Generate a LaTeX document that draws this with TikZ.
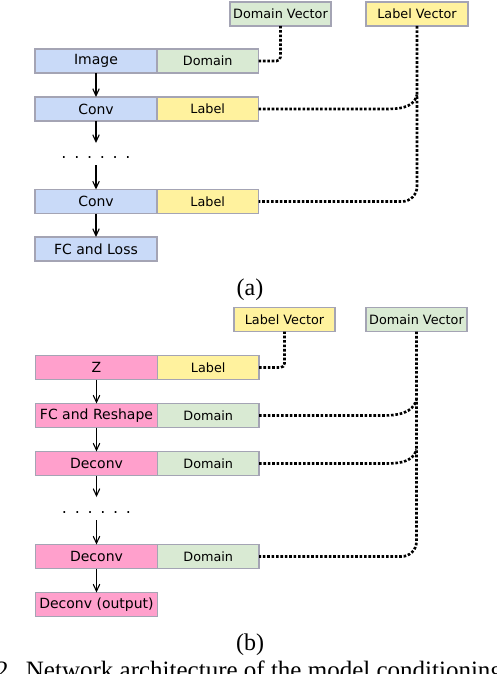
\documentclass[tikz,border=0pt]{standalone}
\usepackage{fontspec}
\setmainfont{DejaVu Sans}
\newfontfamily\capfont{Liberation Serif}
\usepackage{tikz}
\usetikzlibrary{arrows.meta,positioning,calc}
\definecolor{convblue}{HTML}{C9DAF8}
\definecolor{domgreen}{HTML}{D9EAD3}
\definecolor{labyellow}{HTML}{FFF29E}
\definecolor{genpink}{HTML}{FFA0CC}
\definecolor{boxgray}{HTML}{A4A4B4}

\begin{document}
\begin{tikzpicture}[x=1pt, y=-1pt,
  blk/.style={draw=boxgray, line width=1.8pt, outer sep=0pt, inner sep=0pt,
              minimum width=122pt, minimum height=24pt,
              font=\fontsize{14}{16}\selectfont},
  cond/.style={blk, minimum width=101.5pt,
               font=\fontsize{12.8}{15}\selectfont},
  arr/.style={-{Straight Barb[length=7pt,width=6.5pt]}, line width=1.1pt},
  dotline/.style={line width=2.6pt, dash pattern=on 2.6pt off 1.8pt},
  sub/.style={font=\capfont\fontsize{24}{28}\selectfont},
  dotrow/.style={font=\fontsize{16}{16}\selectfont, inner sep=0pt}
]
\useasboundingbox (0,0) rectangle (496,674);
% (a) classifier
\node[cond, fill=domgreen] (dva) at (280.5,14) {Domain Vector};
\node[cond, fill=labyellow] (lva) at (417,14) {Label Vector};
\node[blk, fill=convblue] (img) at (96,61) {Image};
\node[cond, fill=domgreen, right=0pt of img] (doma) {Domain};
\node[blk, fill=convblue] (conva) at (96,109) {Conv};
\node[cond, fill=labyellow, right=0pt of conva] (laba) {Label};
\node[dotrow] (dotsa) at (96,158) {\foreach \i in {1,...,5}{.\hspace{7.7pt}}.};
\node[blk, fill=convblue] (convb) at (96,201.5) {Conv};
\node[cond, fill=labyellow, right=0pt of convb] (labb) {Label};
\node[blk, fill=convblue] (fcl) at (96,249) {FC and Loss};
\node[sub] (capa) at (250,290) {(a)};
\coordinate (dta) at (96,143);
\coordinate (dba) at (96,165);
% arrows
\draw[arr] (img) -- (conva);
\draw[arr] (conva) -- (dta);
\draw[arr] (dba) -- (convb);
\draw[arr] (convb) -- (fcl);
% conditioning
\draw[dotline, rounded corners=4pt] (doma.east) -| (dva.south);
\draw[dotline, rounded corners=15pt] (lva.south) |- (labb.east);
\draw[dotline] (laba.east) -- ($(lva.south |- laba.east)+(-34,0)$)
  to[out=0, in=-105] ($(lva.south |- laba.east)+(0,-14)$);

% (b) generator
\node[cond, fill=labyellow] (lvb) at (284.5,319.5) {Label Vector};
\node[cond, fill=domgreen] (dvb) at (416.5,319.5) {Domain Vector};
\node[blk, fill=genpink] (z) at (96.5,367.5) {Z};
\node[cond, fill=labyellow, right=0pt of z] (labz) {Label};
\node[blk, fill=genpink] (fcr) at (96.5,415.5) {FC and Reshape};
\node[cond, fill=domgreen, right=0pt of fcr] (domr) {Domain};
\node[blk, fill=genpink] (dcva) at (96.5,463.5) {Deconv};
\node[cond, fill=domgreen, right=0pt of dcva] (domc) {Domain};
\node[dotrow] (dotsb) at (96.5,513) {\foreach \i in {1,...,5}{.\hspace{7.7pt}}.};
\node[blk, fill=genpink] (dcvb) at (96.5,556.5) {Deconv};
\node[cond, fill=domgreen, right=0pt of dcvb] (domd) {Domain};
\node[blk, fill=genpink] (out) at (96.5,604.5) {Deconv (output)};
\node[sub] (capb) at (250,645) {(b)};
\coordinate (dtb) at (96.5,497);
\coordinate (dbb) at (96.5,520);
% arrows
\draw[arr] (z) -- (fcr);
\draw[arr] (fcr) -- (dcva);
\draw[arr] (dcva) -- (dtb);
\draw[arr] (dbb) -- (dcvb);
\draw[arr] (dcvb) -- (out);
% conditioning
\draw[dotline, rounded corners=4pt] (labz.east) -| (lvb.south);
\draw[dotline, rounded corners=15pt] (dvb.south) |- (domd.east);
\draw[dotline] (domr.east) -- ($(dvb.south |- domr.east)+(-34,0)$)
  to[out=0, in=-105] ($(dvb.south |- domr.east)+(0,-16)$);
\draw[dotline] (domc.east) -- ($(dvb.south |- domc.east)+(-34,0)$)
  to[out=0, in=-105] ($(dvb.south |- domc.east)+(0,-14)$);

% figure caption, cut by the page
\node[font=\capfont\fontsize{25}{28}\selectfont, anchor=base west, inner sep=0pt]
  (figcap) at (-4,678)
  {2.\hspace{11pt}Network architecture of the model conditioning on};
\end{tikzpicture}
\end{document}
